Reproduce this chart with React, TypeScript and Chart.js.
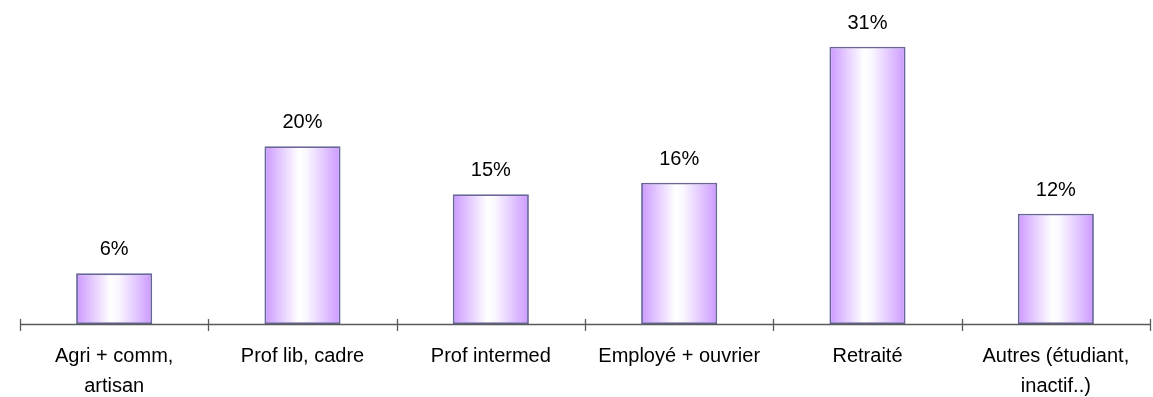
import React, { useEffect, useRef } from "react";
import { Chart, registerables } from "chart.js";

Chart.register(...registerables);

const categories: (string | string[])[] = [
  ["Agri + comm,", "artisan"],
  "Prof lib, cadre",
  "Prof intermed",
  "Employé + ouvrier",
  "Retraité",
  ["Autres (étudiant,", "inactif..)"],
];
const values = [5.7, 20, 14.6, 15.9, 31.2, 12.4];
const valueLabels = ["6%", "20%", "15%", "16%", "31%", "12%"];

const FONT = "'Liberation Sans', Arial, sans-serif";

export default function App() {
  const ref = useRef<HTMLCanvasElement | null>(null);
  useEffect(() => {
    document.body.style.margin = "0";
    const canvas = ref.current!;
    const labelsPlugin = {
      id: "valueLabels",
      afterDatasetsDraw(chart: any) {
        const ctx = chart.ctx;
        const meta = chart.getDatasetMeta(0);
        ctx.save();
        ctx.font = `20px ${FONT}`;
        ctx.fillStyle = "#000";
        ctx.textAlign = "center";
        ctx.textBaseline = "alphabetic";
        meta.data.forEach((bar: any, i: number) => {
          ctx.fillText(valueLabels[i], bar.x, bar.y - 18);
        });
        ctx.restore();
      },
    };
    const axisPlugin = {
      id: "axisTicks",
      afterDraw(chart: any) {
        const ctx = chart.ctx;
        const y = chart.chartArea.bottom;
        ctx.save();
        ctx.strokeStyle = "#5a5a5a";
        ctx.lineWidth = 1.3;
        ctx.beginPath();
        ctx.moveTo(chart.chartArea.left, y + 0.5);
        ctx.lineTo(chart.chartArea.right, y + 0.5);
        const n = categories.length;
        for (let i = 0; i <= n; i++) {
          const px = Math.round(chart.chartArea.left + ((chart.chartArea.right - chart.chartArea.left) * i) / n) + 0.5;
          ctx.moveTo(px, y - 5);
          ctx.lineTo(px, y + 7);
        }
        ctx.stroke();
        ctx.restore();
      },
    };
    const chart = new Chart(canvas, {
      type: "bar",
      data: {
        labels: categories,
        datasets: [
          {
            data: values,
            backgroundColor: (c: any) => {
              const ch = c.chart;
              const area = ch.chartArea;
              const xs = ch.scales && ch.scales.x;
              if (!area || !xs || c.dataIndex === undefined) return "#CC99FF";
              const cx = xs.getPixelForValue(c.dataIndex);
              const w = ((area.right - area.left) / categories.length) * 0.404;
              const g = ch.ctx.createLinearGradient(cx - w / 2, 0, cx + w / 2, 0);
              g.addColorStop(0, "#CC99FF");
              g.addColorStop(0.45, "#FFFFFF");
              g.addColorStop(0.55, "#FBF8FF");
              g.addColorStop(1, "#CC99FF");
              return g;
            },
            borderColor: "#666699",
            borderWidth: 1.8,
            borderSkipped: false,
            categoryPercentage: 1,
            barPercentage: 0.404,
          },
        ],
      },
      options: {
        animation: false,
        responsive: false,
        maintainAspectRatio: false,
        layout: { padding: { left: 20, right: 3, top: 13, bottom: 0 } },
        plugins: { legend: { display: false }, tooltip: { enabled: false } },
        scales: {
          x: {
            offset: true,
            grid: { display: true, drawOnChartArea: false, drawTicks: true, tickLength: 7, color: "rgba(0,0,0,0)" },
            border: { display: false },
            ticks: {
              color: "#000",
              font: { family: FONT, size: 20, lineHeight: 1.5 },
              padding: 10,
              maxRotation: 0,
              autoSkip: false,
            },
          },
          y: {
            display: false,
            min: 0,
            max: 35,
          },
        },
      },
      plugins: [labelsPlugin, axisPlugin],
    });
    return () => chart.destroy();
  }, []);
  return (
    <div style={{ width: 1153, height: 397, overflow: "hidden" }}>
      <canvas ref={ref} width={1153} height={411} style={{ display: "block" }} />
    </div>
  );
}
